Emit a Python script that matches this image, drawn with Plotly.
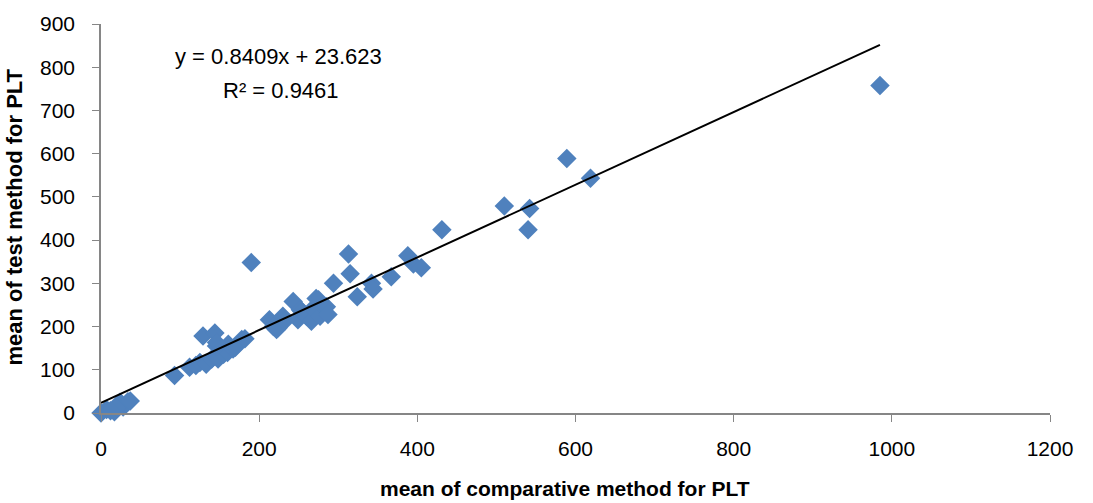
import plotly.graph_objects as go

# Data
comparative = [0, 7, 17, 24, 28, 34, 37, 20, 12,
               93, 112, 120, 125, 133, 140, 148, 155, 160, 167, 146, 161, 170, 178, 182,
               129, 144, 146,
               190,
               213, 218, 222, 224, 230, 232, 243, 249, 252, 254, 260, 266, 268, 272, 275, 277, 283, 285, 287,
               294, 313, 315, 324, 342, 344,
               367, 388, 395, 405,
               431,
               510, 542, 540, 589, 619,
               985]
test = [0, 8, 3, 25, 14, 26, 28, 12, 5,
        87, 106, 110, 117, 113, 125, 125, 136, 140, 148, 155, 159, 152, 170, 172,
        178, 185, 163,
        348,
        216, 200, 193, 197, 224, 212, 258, 216, 239, 235, 224, 212, 242, 265, 262, 224, 243, 246, 228,
        300, 368, 322, 269, 300, 287,
        315, 364, 345, 336,
        424,
        479, 473, 424, 589, 543,
        758]

slope = 0.8409
intercept = 23.623
r_squared = 0.9461

x_ticks = [0, 200, 400, 600, 800, 1000, 1200]
y_ticks = [0, 100, 200, 300, 400, 500, 600, 700, 800, 900]

fit_x = [min(comparative), max(comparative)]
fit_y = [slope * v + intercept for v in fit_x]

fig = go.Figure()
fig.add_trace(go.Scatter(
    x=comparative, y=test, mode="markers", cliponaxis=False,
    marker=dict(symbol="diamond", size=15, color="#4F81BD", line=dict(width=0)),
    showlegend=False, hoverinfo="x+y"))
fig.add_trace(go.Scatter(
    x=fit_x, y=fit_y, mode="lines",
    line=dict(color="black", width=2), showlegend=False))

font_family = "Liberation Sans, Arial, sans-serif"

fig.add_annotation(x=224, y=824, xref="x", yref="y", xanchor="center", yanchor="middle",
                   text=f"y = {slope}x + {intercept}", showarrow=False,
                   font=dict(size=22, color="black", family=font_family))
fig.add_annotation(x=228, y=747, xref="x", yref="y", xanchor="center", yanchor="middle",
                   text=f"R² = {r_squared}", showarrow=False,
                   font=dict(size=22, color="black", family=font_family))

# axis titles
fig.add_annotation(x=0.489, y=-0.195, xref="paper", yref="paper",
                   xanchor="center", yanchor="middle",
                   text="<b>mean of comparative method for PLT</b>", showarrow=False,
                   font=dict(size=21, color="black", family=font_family))
fig.add_annotation(x=-0.0906, y=0.5025, xref="paper", yref="paper",
                   xanchor="center", yanchor="middle", textangle=-90,
                   text="<b>mean of test method for PLT</b>", showarrow=False,
                   font=dict(size=22, color="black", family=font_family))

axis_common = dict(showgrid=False, zeroline=False, showline=True,
                   linecolor="#868686", linewidth=1.5,
                   ticks="outside", ticklen=7, tickcolor="#868686",
                   tickfont=dict(size=21, color="black", family=font_family))

fig.update_xaxes(range=[0, 1200], tickvals=x_ticks, ticklabelstandoff=9, **axis_common)
fig.update_yaxes(range=[0, 900], tickvals=y_ticks, ticklabelstandoff=13, **axis_common)

fig.update_layout(width=1093, height=503,
                  margin=dict(l=101, r=43, t=19, b=90),
                  plot_bgcolor="white", paper_bgcolor="white")

fig.write_html("out.html")
